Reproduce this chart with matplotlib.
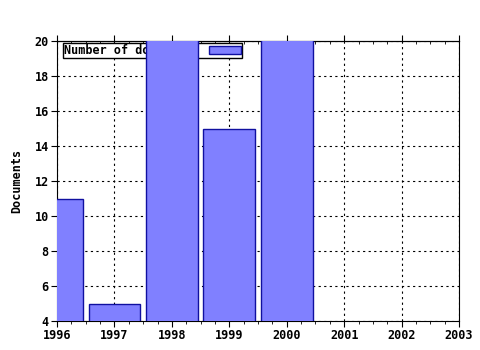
import matplotlib.pyplot as plt
from matplotlib.ticker import MultipleLocator

years = [1996, 1997, 1998, 1999, 2000]
documents = [11, 5, 21, 15, 21]
label = 'Number of documents'

plt.rcParams['font.family'] = 'DejaVu Sans Mono'
plt.rcParams['font.weight'] = 'bold'
plt.rcParams['font.size'] = 8.5

fig = plt.figure(figsize=(4.8, 3.5), dpi=100)
ax = fig.add_axes([57 / 480, 1 - 321 / 350, 402 / 480, 280 / 350])

ax.bar(years, documents, width=0.9, color='#8080ff', edgecolor='#1010a0',
       linewidth=1, label=label, zorder=3)

ax.set_xlim(1996, 2003)
ax.set_ylim(4, 20)
ax.xaxis.set_major_locator(MultipleLocator(1))
ax.xaxis.set_minor_locator(MultipleLocator(0.25))
ax.yaxis.set_major_locator(MultipleLocator(2))
ax.grid(True, which='major', color='black', linestyle=(0, (2, 3)),
        linewidth=0.8, zorder=0)
ax.set_axisbelow(True)

ax.tick_params(axis='x', which='major', direction='out', length=4, pad=2)
ax.tick_params(axis='x', which='minor', direction='out', length=2)
ax.tick_params(axis='y', which='major', direction='out', length=4, pad=2)

# top axis: major ticks outward, minor inward, no labels
top = ax.secondary_xaxis('top')
top.xaxis.set_major_locator(MultipleLocator(1))
top.xaxis.set_minor_locator(MultipleLocator(0.25))
top.tick_params(axis='x', which='major', direction='out', length=4,
                labeltop=False)
top.tick_params(axis='x', which='minor', direction='in', length=2)

ax.set_ylabel('Documents', fontweight='bold', labelpad=8)

leg = ax.legend(loc='upper left', bbox_to_anchor=(6 / 402, 1 - 2 / 280),
                markerfirst=False, fancybox=False, framealpha=1,
                edgecolor='black', borderpad=0.1, borderaxespad=0,
                handlelength=2.7, handleheight=0.65, handletextpad=0.8,
                prop={'weight': 'bold', 'size': 8.5})
leg.get_frame().set_linewidth(1)
leg.set_zorder(1)

fig.savefig('out.png')
